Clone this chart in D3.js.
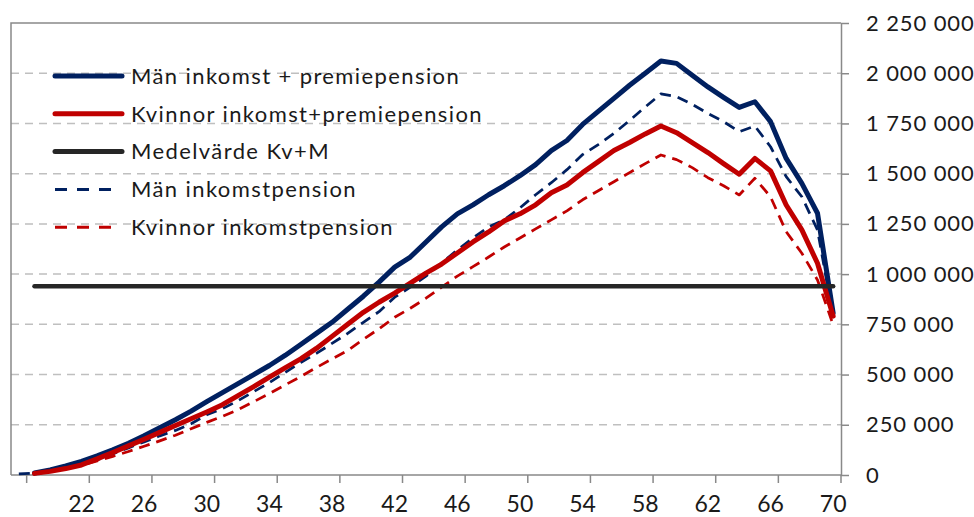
<!DOCTYPE html>
<html>
<head>
<meta charset="utf-8">
<script src="https://cdn.jsdelivr.net/npm/d3@7"></script>
<style>
  body { margin: 0; background: #fff; }
  text { font-family: Lato, "Open Sans", sans-serif; fill: #1a1a1a; }
</style>
</head>
<body>
<div id="container"></div>
<script>
// canvas and plot area
var W = 974, H = 517
var margin = {top: 23, right: 133, bottom: 42, left: 11},
    width = W - margin.left - margin.right,
    height = H - margin.top - margin.bottom;

// ages on the category axis
var ages = [18,19,20,21,22,23,24,25,26,27,28,29,30,31,32,33,34,35,36,37,38,39,40,41,42,43,44,
            45,46,47,48,49,50,51,52,53,54,55,56,57,58,59,60,61,62,63,64,65,66,67,68,69,70]
var xLabels = [22,26,30,34,38,42,46,50,54,58,62,66,70]
var yTicks = [0,250000,500000,750000,1000000,1250000,1500000,1750000,2000000,2250000]

// series values (kr), one per age
var manTotal = [null,10000,25000,45000,68000,95000,125000,158000,195000,235000,275000,318000,365000,
  410000,455000,500000,545000,595000,650000,705000,760000,825000,890000,960000,1035000,1085000,
  1160000,1235000,1300000,1345000,1395000,1440000,1490000,1545000,1615000,1665000,1745000,1810000,
  1875000,1940000,2000000,2061000,2049000,1990000,1932000,1880000,1830000,1858000,1759000,1576000,
  1452000,1303000,806000]
var kvTotal = [null,8000,18000,32000,50000,80000,112000,145000,178000,212000,246000,280000,314000,
  350000,395000,440000,487000,533000,578000,630000,690000,750000,810000,860000,905000,955000,1005000,
  1050000,1105000,1160000,1210000,1265000,1300000,1345000,1405000,1444000,1505000,1560000,1615000,
  1655000,1698000,1737000,1704000,1655000,1605000,1550000,1497000,1576000,1514000,1344000,1220000,
  1054000,791000]
var medel = [null,940000,940000,940000,940000,940000,940000,940000,940000,940000,940000,940000,940000,
  940000,940000,940000,940000,940000,940000,940000,940000,940000,940000,940000,940000,940000,940000,
  940000,940000,940000,940000,940000,940000,940000,940000,940000,940000,940000,940000,940000,940000,
  940000,940000,940000,940000,940000,940000,940000,940000,940000,940000,940000,940000]
var manInk = [5000,9000,22000,40000,55000,75000,105000,135000,165000,195000,222000,255000,300000,
  330000,370000,415000,460000,510000,560000,605000,655000,705000,760000,813000,885000,935000,990000,
  1055000,1120000,1180000,1235000,1270000,1330000,1395000,1455000,1520000,1595000,1645000,1700000,
  1765000,1832000,1897000,1883000,1845000,1800000,1759000,1709000,1737000,1634000,1485000,1385000,
  1220000,788000]
var kvInk = [null,8000,18000,30000,48000,70000,93000,117000,143000,170000,198000,230000,262000,292000,
  325000,365000,405000,448000,490000,535000,578000,620000,675000,728000,785000,830000,880000,935000,
  990000,1037000,1085000,1135000,1180000,1225000,1270000,1315000,1370000,1415000,1460000,1505000,
  1550000,1593000,1570000,1530000,1480000,1440000,1394000,1477000,1385000,1211000,1104000,971000,747000]

var series = [
  {name: "Män inkomst + premiepension", values: manTotal, color: "#002060", width: 5, dash: null},
  {name: "Kvinnor inkomst+premiepension", values: kvTotal, color: "#c00000", width: 5, dash: null},
  {name: "Medelvärde Kv+M", values: medel, color: "#262626", width: 4.5, dash: null},
  {name: "Män inkomstpension", values: manInk, color: "#002060", width: 2.75, dash: "11,7"},
  {name: "Kvinnor inkomstpension", values: kvInk, color: "#c00000", width: 2.75, dash: "11,7"}
]

var svg = d3.select("#container")
  .append("svg")
    .attr("width", W)
    .attr("height", H)
var g = svg.append("g")
    .attr("transform", "translate(" + margin.left + "," + margin.top + ")");

var x = d3.scaleBand()
    .domain(ages)
    .range([0, width])
    .padding(0)
var y = d3.scaleLinear()
    .domain([0, 2250000])
    .range([height, 0])

// swedish style grouping with a space
var fmt = d3.formatLocale({decimal: ",", thousands: "\u00a0", grouping: [3], currency: ["", " kr"]}).format(",d")

// dashed gridlines
g.append("g")
  .selectAll("line")
  .data(yTicks.slice(1, -1))
  .enter().append("line")
    .attr("x1", 0)
    .attr("x2", width)
    .attr("y1", function(d) { return y(d); })
    .attr("y2", function(d) { return y(d); })
    .attr("stroke", "#bfbfbf")
    .attr("stroke-width", 1.5)
    .attr("stroke-dasharray", "8,6")

// plot frame (left and top)
g.append("path")
  .attr("d", "M0," + height + "V0H" + width)
  .attr("fill", "none")
  .attr("stroke", "#898989")
  .attr("stroke-width", 1.5)

// right value axis
var yAxis = g.append("g")
  .attr("transform", "translate(" + width + ",0)")
  .call(d3.axisRight(y).tickValues(yTicks).tickFormat(fmt).tickSizeInner(8).tickSizeOuter(0).tickPadding(17))
yAxis.select(".domain").attr("stroke", "#898989").attr("stroke-width", 1.5)
yAxis.selectAll(".tick line").attr("stroke", "#898989").attr("stroke-width", 1.5)
yAxis.selectAll(".tick text")
  .attr("font-family", "Lato, sans-serif")
  .attr("font-size", 22)
  .attr("letter-spacing", 0.9)
  .attr("fill", "#1a1a1a")

// bottom category axis: ticks between categories, labels every fourth age
var xAxis = g.append("g").attr("transform", "translate(0," + height + ")")
xAxis.append("line")
  .attr("x1", 0).attr("x2", width)
  .attr("stroke", "#898989").attr("stroke-width", 1.5)
xAxis.selectAll(".xtick")
  .data(ages.filter(function(a) { return (a - 18) % 4 == 0; }))
  .enter().append("line")
    .attr("class", "xtick")
    .attr("x1", function(d) { return x(d) + x.bandwidth(); })
    .attr("x2", function(d) { return x(d) + x.bandwidth(); })
    .attr("y1", 0).attr("y2", 8)
    .attr("stroke", "#898989").attr("stroke-width", 1.5)
xAxis.selectAll(".xlab")
  .data(xLabels)
  .enter().append("text")
    .attr("class", "xlab")
    .attr("x", function(d) { return x(d) + x.bandwidth() / 2; })
    .attr("y", 37)
    .attr("text-anchor", "middle")
    .attr("font-size", 23)
    .text(function(d) { return d; })

// the lines
var line = d3.line()
  .defined(function(d) { return d.v != null; })
  .x(function(d) { return x(d.age) + x.bandwidth() / 2; })
  .y(function(d) { return y(d.v); })

// draw dashed series first, then solid ones on top
var drawOrder = [3, 4, 0, 1, 2]
g.append("g")
  .selectAll("path")
  .data(drawOrder.map(function(i) { return series[i]; }))
  .enter().append("path")
    .attr("d", function(s) { return line(s.values.map(function(v, i) { return {age: ages[i], v: v}; })); })
    .attr("fill", "none")
    .attr("stroke", function(s) { return s.color; })
    .attr("stroke-width", function(s) { return s.width; })
    .attr("stroke-dasharray", function(s) { return s.dash; })
    .attr("stroke-linejoin", "round")
    .attr("stroke-linecap", function(s) { return s.dash ? "butt" : "round"; })

// legend
var legend = svg.append("g")
    .attr("font-size", 22)
    .attr("letter-spacing", 1.4)
  .selectAll("g")
  .data(series)
  .enter().append("g")
    .attr("transform", function(d, i) { return "translate(0," + (76 + i * 37.8) + ")"; });

legend.append("line")
    .attr("x1", 55).attr("x2", function(d) { return d.dash ? 113 : 122; })
    .attr("stroke", function(d) { return d.color; })
    .attr("stroke-width", function(d) { return d.dash ? 3 : 5; })
    .attr("stroke-dasharray", function(d) { return d.dash ? "12,10" : null; })
    .attr("stroke-linecap", function(d) { return d.dash ? "butt" : "round"; })

legend.append("text")
    .attr("x", 131)
    .attr("dy", "0.35em")
    .text(function(d) { return d.name; });
</script>
</body>
</html>
